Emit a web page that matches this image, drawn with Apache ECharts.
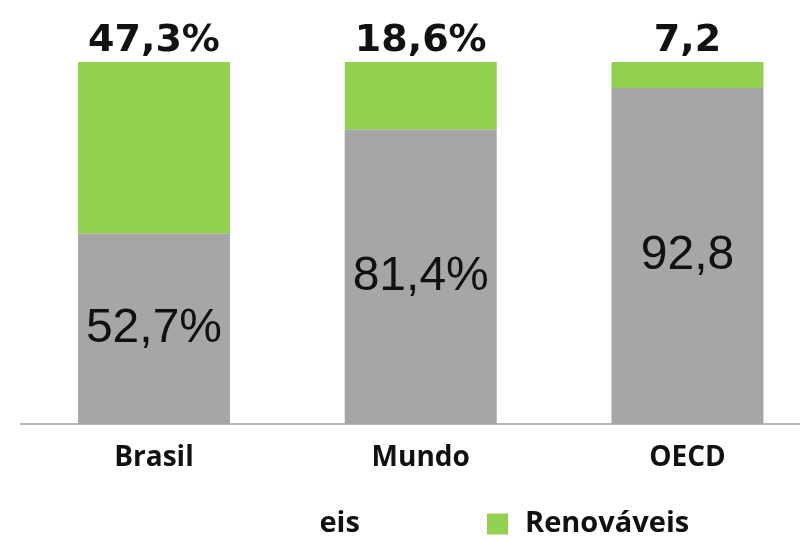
<!DOCTYPE html>
<html>
<head>
<meta charset="utf-8">
<script src="https://cdn.jsdelivr.net/npm/echarts@6/dist/echarts.min.js"></script>
<style>
  html, body { margin: 0; padding: 0; background: #ffffff; }
  #chart { width: 800px; height: 539px; }
</style>
</head>
<body>
<div id="chart"></div>
<script>
// Participação das fontes na matriz energética (%)
const regioes = ['Brasil', 'Mundo', 'OECD'];
const naoRenovaveis = [52.7, 81.4, 92.8];
const renovaveis = [47.3, 18.6, 7.2];
const sufixo = ['%', '%', ''];

const nomeNaoRenov = 'Não renováveis';
const nomeRenov = 'Renováveis';

function rotulo(p) {
  return String(p.value).replace('.', ',') + sufixo[p.dataIndex];
}

const estiloLegenda = {
  fontFamily: 'Open Sans', fontWeight: 'bold', fontSize: 29, color: '#111111',
  padding: [0, 0, 0, 12], lineHeight: 30
};

const chart = echarts.init(document.getElementById('chart'), null, { renderer: 'canvas' });

chart.setOption({
  animation: false,
  backgroundColor: '#ffffff',
  // a área do gráfico se estende um pouco além da borda direita
  grid: { left: 20.6, top: 62, width: 800.25, bottom: 115, outerBoundsMode: 'none', containLabel: false },
  legend: [
    {
      data: [nomeNaoRenov],
      left: 97, top: 509, padding: 0,
      itemWidth: 21, itemHeight: 21,
      icon: 'rect',
      textStyle: estiloLegenda
    },
    {
      data: [nomeRenov],
      left: 487, top: 509, padding: 0,
      itemWidth: 21, itemHeight: 21,
      icon: 'rect',
      textStyle: estiloLegenda
    }
  ],
  xAxis: {
    type: 'category',
    data: regioes,
    axisLine: { lineStyle: { color: '#a0a0a0', width: 1.5 } },
    axisTick: { show: false },
    axisLabel: { fontFamily: 'Open Sans', fontWeight: 'bold', fontSize: 28, color: '#111111', margin: 20 }
  },
  yAxis: {
    type: 'value', min: 0, max: 100,
    show: false,
    splitLine: { show: false }
  },
  series: [
    {
      name: nomeNaoRenov,
      type: 'bar',
      stack: 'total',
      barWidth: 152,
      data: naoRenovaveis,
      itemStyle: { color: '#a6a6a6' },
      label: {
        show: true, position: 'inside',
        formatter: rotulo,
        fontFamily: 'Liberation Sans', fontSize: 48, color: '#111111'
      }
    },
    {
      name: nomeRenov,
      type: 'bar',
      stack: 'total',
      barWidth: 152,
      data: renovaveis,
      itemStyle: { color: '#92d050' },
      label: {
        show: true, position: 'top', distance: 2,
        formatter: rotulo,
        fontFamily: 'DejaVu Sans', fontWeight: 'bold', fontSize: 38, color: '#111111'
      }
    }
  ],
  graphic: [
    {
      type: 'rect',
      left: 0, top: 490,
      shape: { width: 321, height: 49 },
      style: { fill: '#ffffff' },
      z: 100
    }
  ]
});
</script>
</body>
</html>
